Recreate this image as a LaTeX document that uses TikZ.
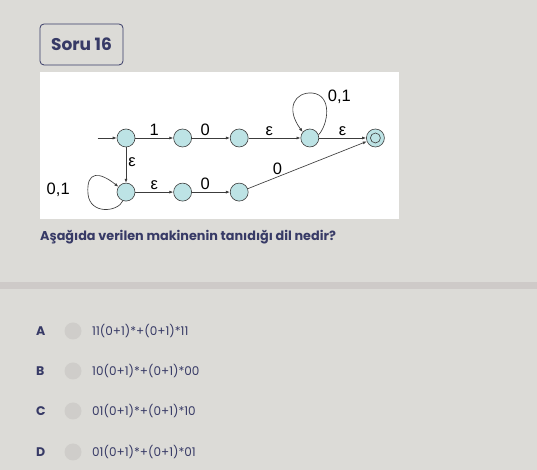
\documentclass[tikz,border=0pt]{standalone}
\usepackage{fontspec}
\setmainfont{Poppins}
\newfontfamily\diagfont{Liberation Sans}
\usetikzlibrary{arrows.meta, positioning, calc}
\definecolor{mybg}{RGB}{220,219,215}
\definecolor{myband}{RGB}{206,202,200}
\definecolor{mynavy}{RGB}{55,58,102}
\definecolor{mystate}{RGB}{189,227,229}
\definecolor{myedge}{RGB}{60,60,60}
\definecolor{myradio}{RGB}{207,205,202}
\tikzset{
  state/.style={circle, draw=myedge, fill=mystate,
    minimum size=18pt, inner sep=0pt, line width=0.6pt},
  edge/.style={-{Latex[length=4pt,width=3pt]}, line width=0.65pt, color=myedge},
  lbl/.style={font=\diagfont\fontsize{16.5}{16.5}\selectfont, text=black, inner sep=2pt},
  optletter/.style={font=\fontsize{12.5}{12.5}\selectfont\bfseries, text=mynavy, anchor=west, inner sep=0pt},
  opttext/.style={font=\fontsize{12}{12}\selectfont, text=mynavy, anchor=west, inner sep=0pt},
  radio/.style={circle, fill=myradio, minimum size=17pt, inner sep=0pt}
}

\begin{document}
\begin{tikzpicture}[x=1pt, y=1pt, node distance=38pt]

  % page and panels
  \fill[mybg] (0,0) rectangle (537,470);
  \useasboundingbox (0,0) rectangle (537,470);
  \fill[myband] (0,181) rectangle (537,188);
  \draw[mynavy, line width=0.8pt, rounded corners=4pt] (40,405) rectangle (123,446);
  \node[font=\fontsize{17}{17}\selectfont\bfseries, text=mynavy] (title) at (81.5,425.5) {Soru 16};
  \fill[white] (40,251) rectangle (399,398);

  % top row
  \node[state] (q0) at (126,332) {};
  \node[state, right=of q0] (q1) {};
  \node[state, right=of q1] (q2) {};
  \node[state, right=52pt of q2] (q3) {};
  \node[state, right=47pt of q3] (qf) {};
  \draw[myedge, line width=0.6pt] (qf) circle (5pt);

  % bottom row
  \node[state, below=35.5pt of q0] (q4) {};
  \node[state, right=of q4] (q5) {};
  \node[state, right=of q5] (q6) {};

  \coordinate[left=19pt of q0] (start);

  \draw[edge] (start) -- (q0);
  \draw[edge] (q0) -- node[lbl, above] {1} (q1);
  \draw[edge] (q1) -- node[lbl, above, pos=0.35] {0} (q2);
  \draw[edge] (q2) -- node[lbl, above, pos=0.4] {ε} (q3);
  \draw[edge] (q3) -- node[lbl, above] {ε} (qf);
  \draw[edge] (q0) -- node[lbl, right, pos=0.42] {ε} (q4);
  \draw[edge] (q4) -- node[lbl, above] {ε} (q5);
  \draw[edge] (q5) -- node[lbl, above, pos=0.35] {0} (q6);
  \draw[edge] (q6) -- node[lbl, above, pos=0.25] {0} (qf);

  % loops
  \draw[edge] (q3.20) .. controls (328,345) and (333,375) .. node[lbl, right=4pt, pos=0.8] {0,1} (312,377)
    .. controls (295,378) and (285,362) .. (q3.140);
  \draw[edge] (q4.250) .. controls (118,258) and (90,255) .. node[lbl, left=16pt, yshift=4pt, pos=1] {0,1} (88,276)
    .. controls (86,300) and (100,298) .. (q4.145);

  % question
  \node[font=\fontsize{12.8}{12.8}\selectfont\bfseries, text=mynavy, anchor=west, inner sep=0pt] (quest) at (40,233) {Aşağıda verilen makinenin tanıdığı dil nedir?};

  % options
  \node[optletter] (la) at (36,139) {A};
  \node[optletter] (lb) at (36,99) {B};
  \node[optletter] (lc) at (36,59) {C};
  \node[optletter] (ld) at (36,18) {D};
  \node[radio] (ra) at (73,139) {};
  \node[radio] (rb) at (73,99) {};
  \node[radio] (rc) at (73,59) {};
  \node[radio] (rd) at (73,18) {};
  \node[opttext] (ta) at (92,139) {11(0+1)*+(0+1)*11};
  \node[opttext] (tb) at (92,99) {10(0+1)*+(0+1)*00};
  \node[opttext] (tc) at (92,59) {01(0+1)*+(0+1)*10};
  \node[opttext] (td) at (92,18) {01(0+1)*+(0+1)*01};
\end{tikzpicture}
\end{document}
